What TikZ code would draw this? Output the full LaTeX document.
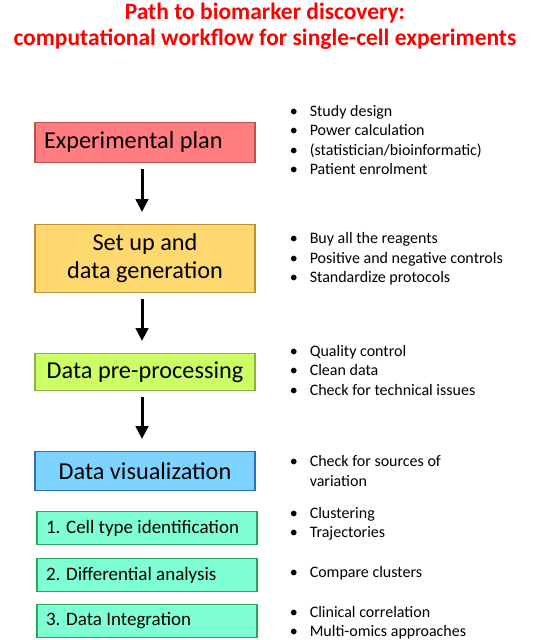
\documentclass[tikz,border=0pt]{standalone}
\usepackage{fontspec}
\setmainfont{Carlito}
\usetikzlibrary{arrows.meta, positioning}

\definecolor{planfill}{HTML}{FF7C80}
\definecolor{planline}{HTML}{C0504D}
\definecolor{setfill}{HTML}{FFD96F}
\definecolor{setline}{HTML}{BF8F30}
\definecolor{prefill}{HTML}{CCFF66}
\definecolor{preline}{HTML}{8CB33E}
\definecolor{visfill}{HTML}{7DD3FF}
\definecolor{visline}{HTML}{2F6EBA}
\definecolor{anafill}{HTML}{7FFFD4}
\definecolor{analine}{HTML}{2EA35F}

\newcommand{\bul}{\textbullet}

\tikzset{
  stage/.style={draw, line width=1.2pt, minimum width=220pt, inner xsep=9pt,
    font=\fontsize{24.3}{28}\selectfont},
  substage/.style={stage, minimum height=32.8pt, text width=202pt, align=flush left,
    fill=anafill, draw=analine, font=\fontsize{19}{22}\selectfont},
  items/.style={inner sep=0pt, anchor=west, font=\fontsize{16}{19.5}\selectfont},
  flow/.style={line width=3pt, -{Triangle[width=12.5pt,length=13pt]},
    shorten <=6pt, shorten >=12pt}
}

\begin{document}
\begin{tikzpicture}[x=1pt, y=1pt]
\useasboundingbox (0,0) rectangle (536,-640);

\node[align=center, text=red, font=\fontsize{23.5}{25.5}\selectfont\bfseries] (head) at (265,-26)
  {Path to biomarker discovery:\\computational workflow for single-cell experiments};

\node[stage, fill=planfill, draw=planline, minimum height=39.8pt, text width=202pt, align=flush left] (plan) at (145,-142.5) {Experimental plan};
\node[stage, fill=setfill, draw=setline, minimum height=67.8pt, align=center, below=61pt of plan] (setup) {Set up and\\data generation};
\node[stage, fill=prefill, draw=preline, minimum height=36.8pt, below=60pt of setup] (prep) {Data pre-processing};
\node[stage, fill=visfill, draw=visline, minimum height=38.8pt, below=60pt of prep] (vis) {Data visualization};
\node[substage, below=20pt of vis, xshift=2pt] (cells) {1. Cell type identification};
\node[substage, below=13pt of cells] (diff) {2. Differential analysis};
\node[substage, below=12pt of diff] (integ) {3. Data Integration};

\draw[flow] ([xshift=-3pt]plan.south) -- ([xshift=-3pt]setup.north);
\draw[flow] ([xshift=-3pt]setup.south) -- ([xshift=-3pt]prep.north);
\draw[flow] ([xshift=-3pt]prep.south) -- ([xshift=-3pt]vis.north);

% notes on the right
\node[items, right=33pt of plan, yshift=1pt] (planlist) {\begin{tabular}{@{\hspace{1pt}}l@{\hspace{12pt}}l@{}}
  \bul & Study design\\
  \bul & Power calculation\\
  \bul & (statistician/bioinformatic)\\
  \bul & Patient enrolment
\end{tabular}};
\node[items, right=33pt of setup, yshift=-0.8pt] (setlist) {\begin{tabular}{@{\hspace{1pt}}l@{\hspace{12pt}}l@{}}
  \bul & Buy all the reagents\\
  \bul & Positive and negative controls\\
  \bul & Standardize protocols
\end{tabular}};
\node[items, right=33pt of prep] (preplist) {\begin{tabular}{@{\hspace{1pt}}l@{\hspace{12pt}}l@{}}
  \bul & Quality control\\
  \bul & Clean data\\
  \bul & Check for technical issues
\end{tabular}};
\node[items, right=33pt of vis, yshift=-1.7pt] (vislist) {\begin{tabular}{@{\hspace{1pt}}l@{\hspace{12pt}}l@{}}
  \bul & Check for sources of\\
       & variation
\end{tabular}};
\node[items, right=31pt of cells, yshift=4pt] (cellslist) {\begin{tabular}{@{\hspace{1pt}}l@{\hspace{12pt}}l@{}}
  \bul & Clustering\\
  \bul & Trajectories
\end{tabular}};
\node[items, right=31pt of diff, yshift=1pt] (difflist) {\begin{tabular}{@{\hspace{1pt}}l@{\hspace{12pt}}l@{}}
  \bul & Compare clusters
\end{tabular}};
\node[items, right=31pt of integ, yshift=-2pt] (integlist) {\begin{tabular}{@{\hspace{1pt}}l@{\hspace{12pt}}l@{}}
  \bul & Clinical correlation\\
  \bul & Multi-omics approaches
\end{tabular}};
\end{tikzpicture}
\end{document}
